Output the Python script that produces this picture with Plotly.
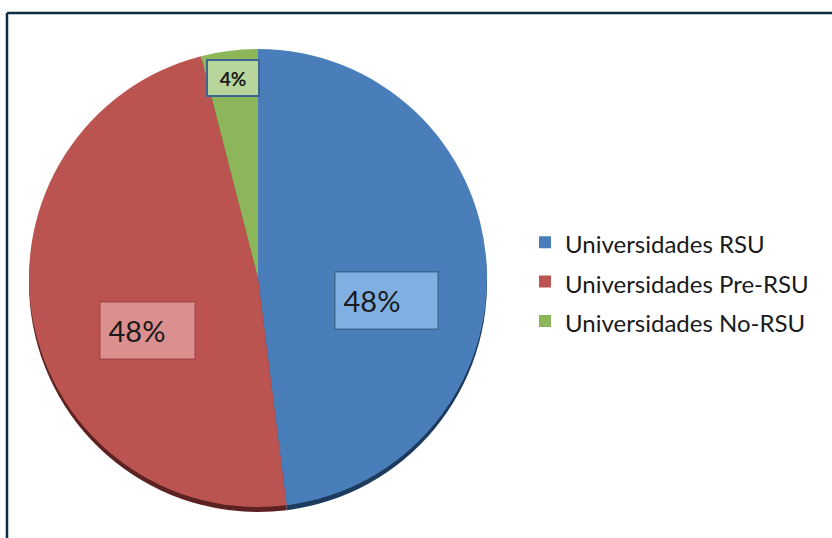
import math
import plotly.graph_objects as go

# ---- data ----
categories = ["Universidades RSU", "Universidades Pre-RSU", "Universidades No-RSU"]
values = [48, 48, 4]
label_texts = ["48%", "48%", "4%"]

# ---- styles ----
W, H = 832, 538
colors = ["#4a7ebb", "#bb5450", "#8db55a"]
shadow_colors = ["#1d3b5e", "#5c2222", "#44612a"]
box_fill = ["#80b0e2", "#db8f8f", "#b8d69b"]
box_line = ["#3d6795", "#a84848", "#3d6790"]

# pie domain in pixels
px_l, px_r, px_t, px_b = 29, 487, 49, 507
dom_x = [px_l / W, px_r / W]
dom_y = [1 - px_b / H, 1 - px_t / H]
shadow_shift = 5
dom_y_sh = [1 - (px_b + shadow_shift) / H, 1 - (px_t + shadow_shift) / H]

fig = go.Figure()

# shadow (3D edge)
fig.add_trace(go.Pie(
    labels=categories, values=values, sort=False, direction="clockwise", rotation=0,
    marker=dict(colors=shadow_colors, line=dict(width=0)),
    textinfo="none", hoverinfo="skip", showlegend=False,
    domain=dict(x=dom_x, y=dom_y_sh),
))

fig.add_trace(go.Pie(
    labels=[f"<span style='font-size:24px'>{c}</span>" for c in categories],
    values=values, sort=False, direction="clockwise", rotation=0,
    marker=dict(colors=colors, line=dict(width=0)),
    textinfo="none", hoverinfo="label+percent", showlegend=True,
    domain=dict(x=dom_x, y=dom_y),
))

# label boxes placed from slice geometry
cx = (px_l + px_r) / 2
cy = (px_t + px_b) / 2
r = min(px_r - px_l, px_b - px_t) / 2
total = sum(values)
cum = 0
annotations = []
for i, v in enumerate(values):
    mid = (cum + v / 2) / total * 2 * math.pi
    cum += v
    small = v / total < 0.1
    f = 0.88 if small else 0.525
    off_x = 0 if small else 0.035 * r
    off_y = 0 if small else 0.13 * r
    x = cx + f * r * math.sin(mid) + off_x
    y = cy - f * r * math.cos(mid) + off_y
    common = dict(x=x / W, y=1 - y / H, xref="paper", yref="paper", showarrow=False,
                  xanchor="center", yanchor="middle", valign="middle",
                  bgcolor=box_fill[i], bordercolor=box_line[i])
    if small:
        annotations.append(dict(
            text=f"<b>{label_texts[i]}</b>", font=dict(family="Lato", size=19, color="#1a1a1a"),
            borderwidth=2, borderpad=4, width=42, height=26, align="center", **common,
        ))
    else:
        annotations.append(dict(
            text=label_texts[i], font=dict(family="Lato", size=29, color="#1a1a1a"),
            borderwidth=1.5, borderpad=8, width=86 if i == 0 else 78, height=40,
            align="left", **common,
        ))

fig.update_layout(
    width=W, height=H, autosize=False,
    margin=dict(l=0, r=0, t=0, b=0),
    paper_bgcolor="white", plot_bgcolor="white",
    font=dict(family="Lato", color="#1a1a1a"),
    legend=dict(
        x=525 / W, y=1 - 282 / H, xanchor="left", yanchor="middle",
        font=dict(family="Lato", size=28, color="#1a1a1a"),
        bgcolor="rgba(0,0,0,0)", traceorder="normal",
    ),
    annotations=annotations,
    shapes=[
        dict(type="line", xref="paper", yref="paper", x0=7 / W, x1=1.02, y0=1 - 13 / H, y1=1 - 13 / H,
             line=dict(color="#0f2c45", width=2.5)),
        dict(type="line", xref="paper", yref="paper", x0=7 / W, x1=7 / W, y0=-0.02, y1=1 - 13 / H,
             line=dict(color="#0f2c45", width=2.5)),
    ],
)

fig.write_html("out.html")
